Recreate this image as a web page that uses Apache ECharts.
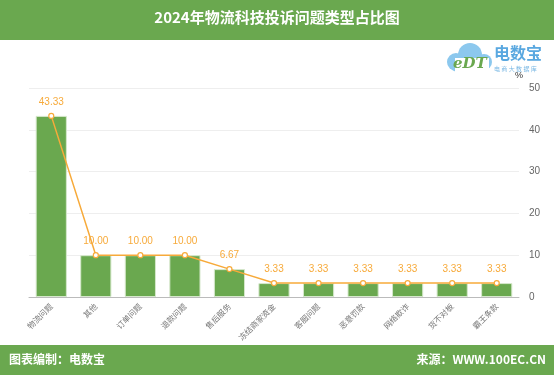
<!DOCTYPE html>
<html><head><meta charset="utf-8">
<script src="https://cdn.jsdelivr.net/npm/echarts@6/dist/echarts.min.js"></script>
<style>html,body{margin:0;padding:0;background:#fff}#c{width:554px;height:375px}</style>
</head><body><div id="c"></div>
<script>
var categories = ['物流问题','其他','订单问题','退款问题','售后服务','冻结商家资金','客服问题','恶意罚款','网络欺诈','货不对板','霸王条款'];
var barValues = [43.33,10.00,10.00,10.00,6.67,3.33,3.33,3.33,3.33,3.33,3.33];
var lineValues = [43.33,10.00,10.00,10.00,6.67,3.33,3.33,3.33,3.33,3.33,3.33];
var yTicks = [0,10,20,30,40,50];

var green = '#6aa84f';
var cloud = '#8cc8ee';
var chart = echarts.init(document.getElementById('c'));
chart.setOption({
  animation:false,
  graphic:[
    {type:'rect',left:0,top:0,shape:{width:554,height:40},style:{fill:green}},
    {type:'text',left:'center',top:10,style:{text:'2024年物流科技投诉问题类型占比图',fill:'#fff',font:'bold 15px "Noto Sans CJK SC"'}},
    {type:'rect',left:0,top:345,shape:{width:554,height:30},style:{fill:green}},
    {type:'text',left:9,top:353,style:{text:'图表编制：电数宝',fill:'#fff',font:'bold 12px "Noto Sans CJK SC"'}},
    {type:'text',right:8,top:353,style:{text:'来源：WWW.100EC.CN',fill:'#fff',font:'bold 12px "Noto Sans CJK SC"'}},
    {type:'circle',shape:{cx:470,cy:55,r:12},style:{fill:cloud}},
    {type:'circle',shape:{cx:456,cy:62,r:9},style:{fill:cloud}},
    {type:'circle',shape:{cx:484,cy:62,r:8},style:{fill:cloud}},
    {type:'rect',shape:{x:452,y:60,width:36,height:12,r:5},style:{fill:cloud}},
    {type:'rect',shape:{x:455,y:58,width:34,height:15},style:{fill:'#fff'}},
    {type:'text',left:453,top:57,style:{text:'eDT',fill:'#6aa84f',font:'italic bold 15px "DejaVu Serif"'}},
    {type:'text',left:494,top:45,style:{text:'电数宝',fill:'#5aa8e0',font:'bold 16px "Noto Sans CJK SC"'}},
    {type:'text',left:494,top:66,style:{text:'电 商 大 数 据 库',fill:'#7ab8e4',font:'6px "Noto Sans CJK SC"'}}
  ],
  grid:{left:29,right:35,top:88,bottom:78},
  xAxis:{type:'category',data:categories,
    axisLine:{lineStyle:{color:'#bbb'}},axisTick:{show:false},
    axisLabel:{rotate:45,interval:0,color:'#777',fontSize:8,margin:8,fontFamily:'Noto Sans CJK SC'}},
  yAxis:{type:'value',position:'right',min:0,max:50,interval:10,name:'%',
    nameGap:8,nameTextStyle:{color:'#333',fontSize:9,padding:[0,0,0,0]},
    axisLine:{show:false},axisTick:{show:false},
    splitLine:{lineStyle:{color:'#eee'}},
    axisLabel:{color:'#666',fontSize:10,margin:10,
      formatter:function(v){return yTicks.indexOf(v)>=0?String(v):'';}}},
  series:[
    {type:'bar',data:barValues,barWidth:'70%',
      itemStyle:{color:green,borderColor:'#d6e8cc',borderWidth:1}},
    {type:'line',data:lineValues,symbol:'circle',symbolSize:5,
      lineStyle:{color:'#f7aa3a',width:1.5},
      itemStyle:{color:'#fff',borderColor:'#f7aa3a',borderWidth:1.2},
      label:{show:true,position:'top',distance:6,color:'#f7aa3a',fontSize:10,
        formatter:function(p){return p.value.toFixed(2);}}}
  ]
});
</script></body></html>
